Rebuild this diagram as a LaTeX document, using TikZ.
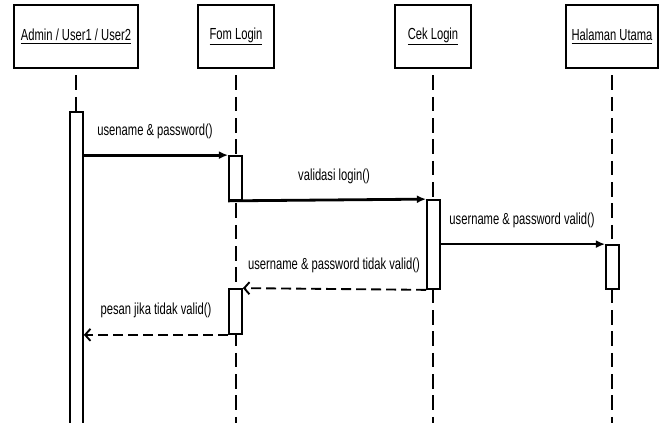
\documentclass[tikz,border=0pt]{standalone}
\usepackage{fontspec}
\newfontfamily\diagfont[FakeStretch=0.7]{Liberation Sans}
\usetikzlibrary{arrows.meta}
\newcommand{\px}{0.75pt}

\begin{document}
\begin{tikzpicture}
        [x=\px,y=-\px,every node/.style={font=\diagfont\fontsize{12}{14}\selectfont},
         obj/.style={rectangle,draw,line width=1.2pt,fill=white,minimum height=63*\px},
         act/.style={rectangle,draw,line width=1.3pt,fill=white,minimum width=13*\px,inner sep=0pt},
         life/.style={line width=1.7pt,dash pattern=on 11pt off 5pt,dash phase=11pt},
         call/.style={line width=2.1pt,-{Latex[length=7pt,width=6pt]}},
         valid/.style={line width=1.4pt,-{Latex[length=7pt,width=6pt]}},
         reply/.style={line width=1.4pt,dash pattern=on 7.5pt off 3.75pt,-{Straight Barb[length=4pt,width=9pt]}},
         lbl/.style={inner sep=0pt}]
        \useasboundingbox (0,0) rectangle (659,423);
        \coordinate (bot) at (0,423);

        %Objects
        \node[obj,minimum width=124*\px] (admin) at (76,36.5)   {\underline{Admin / User1 / User2}};
        \node[obj,minimum width=76*\px]  (form)  at (236,36.5)  {\underline{Fom Login}};
        \node[obj,minimum width=76*\px]  (cek)   at (433,36.5)  {\underline{Cek Login}};
        \node[obj,minimum width=92*\px]  (hal)   at (612,36.5)  {\underline{Halaman Utama}};

        %Lifelines
        \draw[life] (admin) -- (admin |- bot);
        \draw[life] (form.south) -- (form.south |- bot);
        \draw[life] (cek.south) -- (cek.south |- bot);
        \draw[life] (hal.south) -- (hal.south |- bot);

        %Activations
        \node[act,minimum height=318*\px] (admA)  at (76.5,271)   {};
        \node[act,minimum height=44*\px]  (formA) at (235.5,178)  {};
        \node[act,minimum height=45*\px]  (formB) at (235.5,311.5){};
        \node[act,minimum height=89*\px]  (cekA)  at (433.5,244.5){};
        \node[act,minimum height=44*\px]  (halA)  at (612.5,267)  {};

        %Messages
        \draw[call]  (admA.east |- formA.north west) -- (formA.north west);
        \draw[call]  (formA.south west) -- (cekA.north west);
        \draw[valid] (cekA.east |- halA.north west) -- (halA.north west);
        \draw[reply] (cekA.south west) -- (formB.north east);
        \draw[reply] (formB.south west) -- (admA.east |- formB.south west);

        \node[lbl] (m1) at (155,131) {usename \& password()};
        \node[lbl] (m2) at (334,176) {validasi login()};
        \node[lbl] (m3) at (522,220) {username \& password valid()};
        \node[lbl] (m4) at (334,265) {username \& password tidak valid()};
        \node[lbl] (m5) at (156,310) {pesan jika tidak valid()};
\end{tikzpicture}
\end{document}
